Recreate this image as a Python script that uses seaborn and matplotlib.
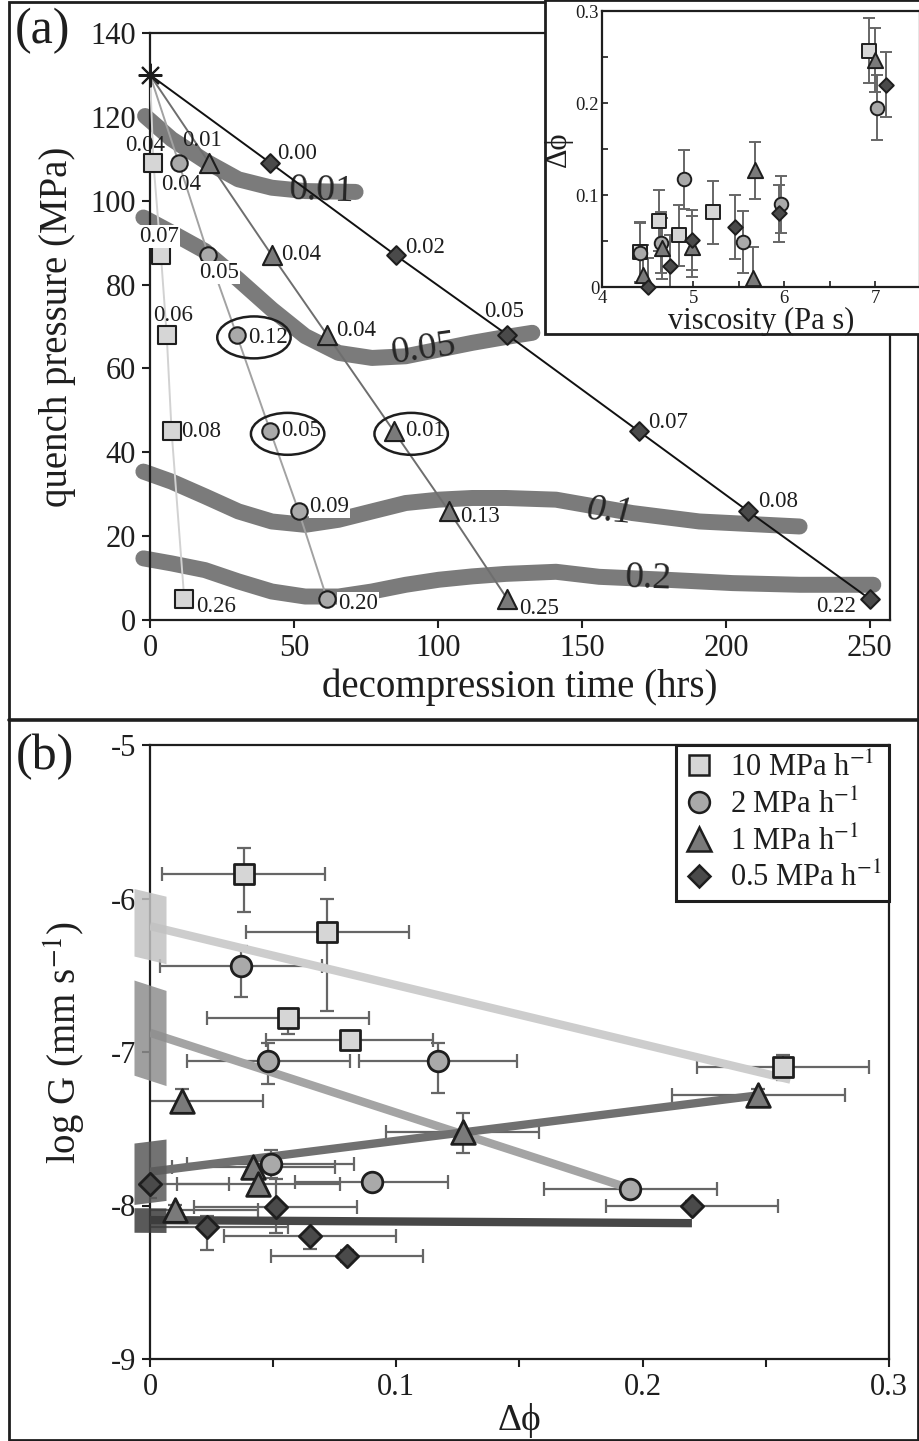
import matplotlib
matplotlib.use("Agg")
import matplotlib.pyplot as plt
import seaborn as sns
from matplotlib.patches import Ellipse, Rectangle
from matplotlib.lines import Line2D
from matplotlib.ticker import MultipleLocator, FuncFormatter

# ---------------- data ----------------
start_time = [0.0]
start_pressure = [130.0]

# panel (a): quench pressure vs decompression time for each decompression rate
sq_time = [1.2, 3.8, 5.8, 7.5, 11.9]
sq_pressure = [109, 87, 68, 45, 5]
ci_time = [10.0, 20.3, 30.1, 41.8, 51.6, 61.5]
ci_pressure = [109, 87, 68, 45, 26, 5]
tr_time = [20.6, 42.3, 61.5, 84.7, 103.8, 124.1]
tr_pressure = [109, 87, 68, 45, 26, 5]
di_time = [41.8, 85.3, 124.1, 169.8, 207.6, 250.0]
di_pressure = [109, 87, 68, 45, 26, 5]

sq_label = ["0.04", "0.07", "0.06", "0.08", "0.26"]
ci_label = ["0.04", "0.05", "0.12", "0.05", "0.09", "0.20"]
tr_label = ["0.01", "0.04", "0.04", "0.01", "0.13", "0.25"]
di_label = ["0.00", "0.02", "0.05", "0.07", "0.08", "0.22"]

# contour bands of equal delta-phi
c001_time = [-1.7, 7.5, 19.1, 30.7, 42.3, 53.9, 71.4]
c001_pressure = [120.2, 114.7, 109.5, 105.1, 103.1, 102.3, 102.1]
c005_time = [-2.3, 7.5, 19.1, 30.7, 42.3, 53.9, 65.5, 77.1, 88.8, 100.3, 111.9, 123.6, 132.8]
c005_pressure = [96.0, 92.4, 88.0, 81.2, 74.1, 67.7, 63.7, 62.5, 62.9, 64.5, 66.1, 67.5, 68.5]
c01_time = [-2.3, 7.5, 19.1, 30.7, 42.3, 53.9, 65.5, 77.1, 88.8, 100.3, 111.9, 123.6,
            141.0, 167.6, 190.8, 214.0, 225.6]
c01_pressure = [35.4, 33.0, 29.5, 25.9, 23.5, 22.7, 23.9, 25.9, 27.9, 28.7, 29.1, 29.1,
                28.7, 25.5, 23.5, 22.7, 22.3]
c02_time = [-2.3, 7.5, 19.1, 30.7, 42.3, 53.9, 65.5, 77.1, 88.8, 100.3, 111.9, 123.6,
            141.0, 156.0, 179.2, 202.4, 225.6, 251.2]
c02_pressure = [14.7, 13.5, 11.9, 9.2, 6.8, 5.6, 5.6, 6.8, 8.4, 9.6, 10.4, 11.0,
                11.5, 10.3, 9.6, 8.8, 8.4, 8.4]
contour_names = ["0.01", "0.05", "0.1", "0.2"]
contour_label_time = [59.7, 95.1, 159.5, 173.0]
contour_label_pressure = [102.3, 64.5, 25.9, 10.0]

# inset + panel (b)
sq_visc = [4.42, 4.63, 4.85, 5.22, 6.93]
ci_visc = [4.42, 4.65, 4.90, 5.55, 5.96, 7.02]
tr_visc = [4.45, 4.66, 4.99, 5.66, 5.68, 7.00]
di_visc = [4.50, 4.75, 4.99, 5.46, 5.94, 7.12]

sq_dphi = [0.038, 0.072, 0.056, 0.081, 0.257]
ci_dphi = [0.037, 0.048, 0.117, 0.049, 0.090, 0.195]
tr_dphi = [0.013, 0.042, 0.044, 0.010, 0.127, 0.247]
di_dphi = [0.000, 0.023, 0.051, 0.065, 0.080, 0.220]

sq_dphi_err = [0.033, 0.033, 0.033, 0.034, 0.035]
ci_dphi_err = [0.033, 0.033, 0.032, 0.034, 0.031, 0.035]
tr_dphi_err = [0.033, 0.033, 0.033, 0.034, 0.031, 0.035]
di_dphi_err = [0.032, 0.033, 0.033, 0.035, 0.031, 0.035]

sq_logG = [-5.84, -6.22, -6.78, -6.92, -7.10]
ci_logG = [-6.44, -7.06, -7.06, -7.73, -7.85, -7.89]
tr_logG = [-7.32, -7.75, -7.86, -8.03, -7.52, -7.28]
di_logG = [-7.86, -8.14, -8.01, -8.20, -8.33, -8.00]

sq_logG_lo = [0.25, 0.51, 0.10, 0.05, 0.08]
sq_logG_hi = [0.17, 0.22, 0.06, 0.05, 0.08]
ci_logG_lo = [0.20, 0.15, 0.21, 0.09, 0.03, 0.03]
ci_logG_hi = [0.13, 0.12, 0.12, 0.09, 0.03, 0.03]
tr_logG_lo = [0.08, 0.04, 0.08, 0.03, 0.14, 0.04]
tr_logG_hi = [0.08, 0.04, 0.04, 0.03, 0.12, 0.04]
di_logG_lo = [0.09, 0.15, 0.17, 0.085, 0.04, 0.03]
di_logG_hi = [0.09, 0.07, 0.18, 0.085, 0.04, 0.03]

# linear fits (delta-phi endpoints, logG endpoints, CI half-width at intercept)
sq_fit_x = [0.0, 0.26]
sq_fit_y = [-6.18, -7.18]
ci_fit_x = [0.0, 0.195]
ci_fit_y = [-6.875, -7.89]
tr_fit_x = [0.0, 0.248]
tr_fit_y = [-7.78, -7.28]
di_fit_x = [0.0, 0.22]
di_fit_y = [-8.095, -8.115]
fit_ci_half = [0.22, 0.31, 0.20, 0.08]

rate_labels = ["10 MPa h$^{-1}$", "2 MPa h$^{-1}$", "1 MPa h$^{-1}$", "0.5 MPa h$^{-1}$"]

# ---------------- style ----------------
sns.set_theme(style="ticks")
plt.rcParams["font.family"] = ["Liberation Serif", "DejaVu Serif"]
plt.rcParams["mathtext.fontset"] = "stix"
plt.rcParams["axes.unicode_minus"] = False
INK = "#1e1e1e"
plt.rcParams["text.color"] = INK
plt.rcParams["axes.labelcolor"] = INK
plt.rcParams["xtick.color"] = INK
plt.rcParams["ytick.color"] = INK

fills = ["#d6d6d6", "#a9a9a9", "#7a7a7a", "#4a4a4a"]
path_cols = ["#d2d2d2", "#a2a2a2", "#6e6e6e", "#111111"]
fit_cols = ["#cdcdcd", "#a4a4a4", "#707070", "#474747"]
band_cols = ["#c2c2c2", "#8e8e8e", "#5a5a5a", "#3c3c3c"]
markers = ["s", "o", "^", "D"]
ERR = "#666666"

W, H = 920, 1441
fig = plt.figure(figsize=(W / 100, H / 100), dpi=100)


def frac(x0, y0, x1, y1):
    return [x0 / W, 1 - y1 / H, (x1 - x0) / W, (y1 - y0) / H]


axA = fig.add_axes(frac(150, 33, 890, 620))
axI = fig.add_axes(frac(602, 11, 920, 287))
axB = fig.add_axes(frac(150, 745, 889, 1359))

fmt_g = FuncFormatter(lambda v, p: f"{v:g}")

# ---------------- panel (a) ----------------
ax = axA
bands = [(c001_time, c001_pressure), (c005_time, c005_pressure),
         (c01_time, c01_pressure), (c02_time, c02_pressure)]
for t, p in bands:
    sns.lineplot(x=t, y=p, sort=False, estimator=None, ax=ax, color="#7b7b7b",
                 lw=11.5, solid_capstyle="round", solid_joinstyle="round",
                 zorder=1, clip_on=False, legend=False)
rots = [-2, 8, -5, -2]
styles = ["normal", "normal", "italic", "normal"]
for name, t, p, r, st in zip(contour_names, contour_label_time, contour_label_pressure, rots, styles):
    ax.text(t, p, name, fontsize=27, ha="center", va="center", rotation=r,
            style=st, color="#262626", zorder=2)

series_a = [(sq_time, sq_pressure, sq_label), (ci_time, ci_pressure, ci_label),
            (tr_time, tr_pressure, tr_label), (di_time, di_pressure, di_label)]
sizes_a = [150, 140, 190, 90]
offsets = [
    [(-8, 17), (-2, 19), (6, 19), (30, 0), (32, -7)],
    [(2, -22), (11, -17), (31, -3), (31, 1), (31, 4), (31, -4)],
    [(-7, 22), (29, 1), (29, 4), (31, 1), (31, -6), (32, -9)],
    [(27, 9), (29, 8), (-3, 23), (29, 9), (30, 9), (-34, -7)],
]
white_bg = {(0, 1), (1, 1), (1, 4), (1, 5)}
for k, (t, p, labs) in enumerate(series_a):
    sns.lineplot(x=start_time + t, y=start_pressure + p, sort=False, estimator=None,
                 ax=ax, color=path_cols[k], lw=1.4, zorder=3, legend=False)
    sns.scatterplot(x=t, y=p, marker=markers[k], s=sizes_a[k], color=fills[k],
                    edgecolor=INK, linewidth=1.5, ax=ax, zorder=4, clip_on=False,
                    legend=False)
    for j, (tt, pp, lab) in enumerate(zip(t, p, labs)):
        bb = dict(fc="white", ec="none", pad=0.6) if (k, j) in white_bg else None
        ax.annotate(lab, (tt, pp), xytext=offsets[k][j], textcoords="offset pixels",
                    ha="center", va="center", fontsize=16.5, zorder=5, bbox=bb)

ax.plot(start_time, start_pressure, marker=(8, 2, 0), ms=17, mew=1.5, color=INK,
        ls="none", zorder=6, clip_on=False)

# ellipses around highlighted samples
for (t, p) in [(ci_time[2], ci_pressure[2]), (ci_time[3], ci_pressure[3]),
               (tr_time[3], tr_pressure[3])]:
    ax.add_patch(Ellipse((t + 6.0, p - 0.6), 25.5, 10.0, fill=False, ec=INK,
                         lw=1.8, zorder=5))

ax.set_xlim(0, 257)
ax.set_ylim(0, 140)
ax.set_xticks([0, 50, 100, 150, 200, 250])
ax.set_yticks(range(0, 141, 20))
ax.xaxis.set_major_formatter(fmt_g)
ax.tick_params(direction="out", length=6, width=1.5, labelsize=22, pad=4)
ax.set_xlabel("decompression time (hrs)", fontsize=28)
ax.set_ylabel("quench pressure (MPa)", fontsize=28)
ax.xaxis.set_label_coords(0.5, -0.083)
ax.yaxis.set_label_coords(-0.1, 0.5)
for s in ax.spines.values():
    s.set_linewidth(1.6)
    s.set_color(INK)

# ---------------- inset ----------------
ax = axI
ax.set_zorder(10)
ax.patch.set_alpha(0)
series_i = [(sq_visc, sq_dphi, sq_dphi_err), (ci_visc, ci_dphi, ci_dphi_err),
            (tr_visc, tr_dphi, tr_dphi_err), (di_visc, di_dphi, di_dphi_err)]
sizes_i = [95, 95, 120, 55]
for k, (v, d, e) in enumerate(series_i):
    ax.errorbar(v, d, yerr=e, fmt="none", ecolor=ERR, elinewidth=1.4, capsize=4,
                capthick=1.4, zorder=2)
    sns.scatterplot(x=v, y=d, marker=markers[k], s=sizes_i[k], color=fills[k],
                    edgecolor=INK, linewidth=1.4, ax=ax, zorder=4, clip_on=False,
                    legend=False)
ax.set_xlim(4, 7.49)
ax.set_ylim(0, 0.3)
ax.set_xticks([4, 5, 6, 7])
ax.set_yticks([0, 0.1, 0.2, 0.3])
ax.xaxis.set_minor_locator(MultipleLocator(0.5))
ax.yaxis.set_minor_locator(MultipleLocator(0.05))
ax.xaxis.set_major_formatter(fmt_g)
ax.yaxis.set_major_formatter(fmt_g)
ax.tick_params(which="both", direction="in", length=4, width=1.2, labelsize=13.5, pad=2)
ax.set_xlabel("viscosity (Pa s)", fontsize=22, labelpad=0)
ax.set_ylabel("Δϕ", fontsize=22, labelpad=2)
for s in ax.spines.values():
    s.set_linewidth(1.6)
    s.set_color(INK)

fig.add_artist(Rectangle((545 / W, 1 - 334 / H), 375 / W, 334 / H,
                         transform=fig.transFigure, fc="white", ec=INK, lw=2,
                         zorder=5))

# ---------------- panel (b) ----------------
ax = axB
series_b = [
    (sq_dphi, sq_logG, sq_dphi_err, sq_logG_lo, sq_logG_hi, sq_fit_x, sq_fit_y),
    (ci_dphi, ci_logG, ci_dphi_err, ci_logG_lo, ci_logG_hi, ci_fit_x, ci_fit_y),
    (tr_dphi, tr_logG, tr_dphi_err, tr_logG_lo, tr_logG_hi, tr_fit_x, tr_fit_y),
    (di_dphi, di_logG, di_dphi_err, di_logG_lo, di_logG_hi, di_fit_x, di_fit_y),
]
sizes_b = [210, 220, 290, 130]
for k, (x, y, xe, ylo, yhi, fx, fy) in enumerate(series_b):
    ax.errorbar(x, y, xerr=xe, yerr=[ylo, yhi], fmt="none", ecolor=ERR,
                elinewidth=1.6, capsize=5, capthick=1.6, zorder=2)
    sns.lineplot(x=fx, y=fy, sort=False, estimator=None, ax=ax, color=fit_cols[k],
                 lw=6, solid_capstyle="butt", zorder=3, legend=False)
    slope = (fy[1] - fy[0]) / (fx[1] - fx[0])
    bx = [-0.0065, 0.0065]
    by = [fy[0] + slope * b for b in bx]
    ax.fill_between(bx, [v - fit_ci_half[k] for v in by], [v + fit_ci_half[k] for v in by],
                    color=band_cols[k], alpha=0.85, lw=0, zorder=3, clip_on=False)
    sns.scatterplot(x=x, y=y, marker=markers[k], s=sizes_b[k], color=fills[k],
                    edgecolor=INK, linewidth=2, ax=ax, zorder=4, clip_on=False,
                    legend=False)

ax.set_xlim(0, 0.3)
ax.set_ylim(-9, -5)
ax.set_xticks([0, 0.1, 0.2, 0.3])
ax.xaxis.set_minor_locator(MultipleLocator(0.05))
ax.set_yticks([-9, -8, -7, -6, -5])
ax.xaxis.set_major_formatter(fmt_g)
ax.yaxis.set_major_formatter(fmt_g)
ax.tick_params(which="both", direction="out", length=6, width=1.5, labelsize=22, pad=4)
ax.set_xlabel("Δϕ", fontsize=27)
ax.set_ylabel("log G (mm s$^{-1}$)", fontsize=28)
ax.xaxis.set_label_coords(0.5, -0.072)
ax.yaxis.set_label_coords(-0.084, 0.516)
for s in ax.spines.values():
    s.set_linewidth(1.6)
    s.set_color(INK)

handles = [Line2D([], [], ls="none", marker=markers[k], ms=[14, 15, 17, 11][k],
                  mfc=fills[k], mec=INK, mew=1.8) for k in range(4)]
leg = ax.legend(handles, rate_labels, loc="upper right", bbox_to_anchor=(1, 1),
                borderaxespad=0, fontsize=22, frameon=True, fancybox=False,
                edgecolor=INK, framealpha=1, handlelength=1.0, handletextpad=0.5,
                labelspacing=0.22, borderpad=0.25)
leg.get_frame().set_linewidth(2.2)
leg.set_zorder(10)

# ---------------- panel letters and frames ----------------
fig.text(43 / W, 1 - 31 / H, "(a)", fontsize=36, ha="center", va="center")
fig.text(45 / W, 1 - 757 / H, "(b)", fontsize=36, ha="center", va="center")
fig.add_artist(Rectangle((9 / W, 1 / H), 909 / W, 1438 / H, transform=fig.transFigure,
                         fill=False, ec=INK, lw=2, zorder=1))
fig.add_artist(Line2D([9 / W, 918 / W], [1 - 720 / H, 1 - 720 / H],
                      transform=fig.transFigure, color=INK, lw=2.6, zorder=1))

fig.savefig("out.png", dpi=100)
